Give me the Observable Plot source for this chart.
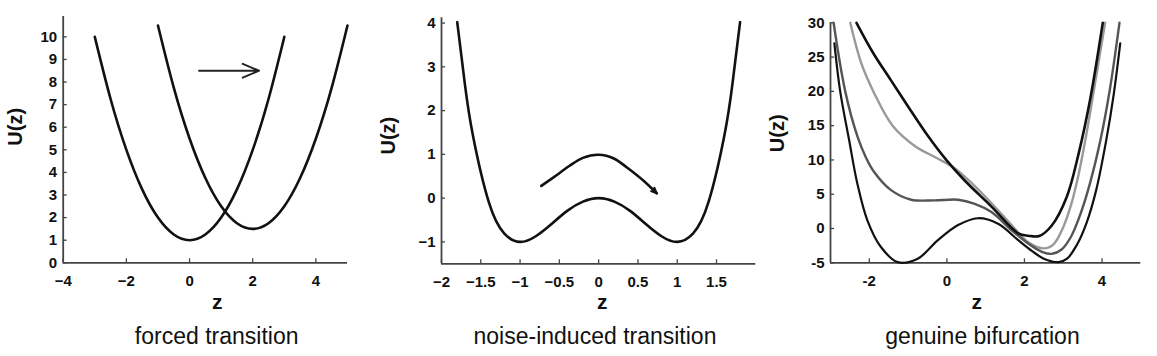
<!DOCTYPE html>
<html>
<head>
<meta charset="utf-8">
<script src="https://cdn.jsdelivr.net/npm/d3@7"></script>
<script src="https://cdn.jsdelivr.net/npm/@observablehq/plot@0.6"></script>
<style>
  body { margin: 0; background: #fff; }
  #wrap { position: relative; width: 1157px; height: 356px; overflow: hidden; background: #fff;
          font-family: "Liberation Sans", Arial, Helvetica, sans-serif; }
  .cap { position: absolute; font-size: 23px; line-height: 26px; color: #111; white-space: nowrap;
         transform: translateX(-50%); }
</style>
</head>
<body>
<div id="wrap"></div>
<script>
// ---------- Panel 1: forced transition ----------
const forcedZ1 = [-3, -2.5, -2, -1.5, -1, -0.5, 0, 0.5, 1, 1.5, 2, 2.5, 3];
const forcedU1 = [10, 7.25, 5, 3.25, 2, 1.25, 1, 1.25, 2, 3.25, 5, 7.25, 10];
const forcedZ2 = [-1, -0.5, 0, 0.5, 1, 1.5, 2, 2.5, 3, 3.5, 4, 4.5, 5];
const forcedU2 = [10.5, 7.75, 5.5, 3.75, 2.5, 1.75, 1.5, 1.75, 2.5, 3.75, 5.5, 7.75, 10.5];
const forcedArrowZ = [0.3, 2.2];
const forcedArrowU = [8.5, 8.5];
const forcedXTicks = [-4, -2, 0, 2, 4];
const forcedYTicks = [0, 1, 2, 3, 4, 5, 6, 7, 8, 9, 10];

// ---------- Panel 2: noise-induced transition ----------
const noiseZ = [-1.8, -1.7, -1.6, -1.4, -1.2, -1, -0.8, -0.6, -0.4, -0.2, 0, 0.2, 0.4, 0.6, 0.8, 1, 1.2, 1.4, 1.6, 1.7, 1.8];
const noiseU = [4.02, 2.57, 1.43, -0.08, -0.81, -1, -0.87, -0.59, -0.29, -0.08, 0, -0.08, -0.29, -0.59, -0.87, -1, -0.81, -0.08, 1.43, 2.57, 4.02];
const hopZ = [-0.73, -0.5, -0.37, -0.2, 0, 0.2, 0.36, 0.57, 0.74];
const hopU = [0.28, 0.57, 0.74, 0.92, 0.99, 0.9, 0.70, 0.40, 0.11];
const noiseXTicks = [-2, -1.5, -1, -0.5, 0, 0.5, 1, 1.5];
const noiseYTicks = [-1, 0, 1, 2, 3, 4];

// ---------- Panel 3: genuine bifurcation ----------
const bifZ_A = [-2.9, -2.75, -2.52, -2.31, -2.05, -1.7, -1.27, -0.75, -0.23, 0.29, 0.8, 1.32, 1.84, 2.2, 2.5, 2.88, 3.1, 3.35, 3.6, 3.85, 4.11, 4.3, 4.47];
const bifU_A = [27, 20, 12.9, 6.6, 1.2, -2.7, -4.9, -4.4, -1.7, 0.5, 1.5, 0.7, -1.7, -3.3, -4.4, -4.9, -4.4, -2.4, 0.8, 5.6, 12.9, 19.5, 27];
const bifZ_B = [-2.92, -2.62, -2.31, -2.09, -1.87, -1.44, -0.92, -0.32, 0.29, 0.72, 1.15, 1.67, 2.2, 2.45, 2.7, 2.95, 3.2, 3.45, 3.7, 3.96, 4.2, 4.45];
const bifU_B = [30, 20, 13.5, 10.4, 8.2, 5.6, 4.2, 4.1, 4.2, 3.6, 2.4, -0.25, -2.6, -3.4, -3.7, -3.1, -1.2, 2.2, 6.8, 12.9, 20.2, 30];
const bifZ_C = [-2.49, -2.2, -1.87, -1.4, -0.79, -0.3, 0.2, 0.7, 1.2, 1.7, 2.1, 2.5, 2.75, 3.0, 3.2, 3.4, 3.57, 3.8, 4.08];
const bifU_C = [30, 24, 19.7, 15, 11.9, 10.4, 8.8, 6.3, 3.4, 0.3, -2.0, -2.9, -2.3, 0.2, 3.4, 8.0, 12.9, 20.5, 30];
const bifZ_D = [-2.33, -1.9, -1.44, -1.0, -0.5, 0, 0.46, 1.15, 1.84, 2.1, 2.38, 2.7, 3.09, 3.4, 3.7, 4.02];
const bifU_D = [30, 25.6, 21.6, 17.8, 13.6, 9.9, 7.0, 3.2, -0.7, -1.05, -1.1, 0.4, 4.6, 11, 19, 30];
const bifXTicks = [-2, 0, 2, 4];
const bifYTicks = [-5, 0, 5, 10, 15, 20, 25, 30];

// ---------- helpers ----------
const zip = (zs, us) => zs.map((z, i) => ({z, u: us[i]}));
const FONT = '"Liberation Sans", Arial, Helvetica, sans-serif';
const AXIS = "#444";
const fmtUnicode = d => (d < 0 ? "\u2212" + Math.abs(d) : String(d));
const fmtHyphen = d => (d < 0 ? "-" + Math.abs(d) : String(d));
const noLabel = () => "";

function panel(cfg) {
  const height = 318;
  const chart = Plot.plot({
    width: cfg.width,
    height,
    marginLeft: cfg.ml,
    marginRight: cfg.mr,
    marginTop: cfg.mt,
    marginBottom: height - cfg.bottom,
    x: {domain: cfg.xDomain},
    y: {domain: cfg.yDomain},
    style: {fontFamily: FONT, background: "transparent", overflow: "visible", color: "#111"},
    marks: [
      // inward tick marks (outward ticks shifted back across the axis line)
      Plot.axisX({ticks: cfg.xTicks, tickFormat: noLabel, tickSize: 4, dy: -4, label: null, stroke: AXIS, strokeWidth: 1.3}),
      Plot.axisY({ticks: cfg.yTicks, tickFormat: noLabel, tickSize: 4, dx: 4, label: null, stroke: AXIS, strokeWidth: 1.3}),
      // tick labels
      Plot.axisX({ticks: cfg.xTicks, tickFormat: cfg.fmt, tickSize: 0, tickPadding: 13, label: null,
                  fontSize: 15, fontWeight: "bold", fill: "#111"}),
      Plot.axisY({ticks: cfg.yTicks, tickFormat: cfg.fmt, tickSize: 0, tickPadding: 6, label: null,
                  fontSize: 15, fontWeight: "bold", fill: "#111"}),
      // axis lines
      Plot.ruleX([cfg.xDomain[0]], {stroke: AXIS, strokeWidth: 1.8}),
      Plot.ruleY([cfg.yDomain[0]], {stroke: AXIS, strokeWidth: 1.8}),
      Plot.text(["U(z)"], {frameAnchor: "left", rotate: -90, dx: cfg.yLabDx, dy: cfg.yLabDy,
                           fontSize: 20, fontWeight: "bold", fill: "#111"}),
      Plot.text(["z"], {frameAnchor: "bottom", dx: cfg.xLabDx, dy: cfg.xLabDy,
                        fontSize: 21, fontWeight: "bold", fill: "#111"}),
      ...cfg.marks
    ]
  });
  chart.style.position = "absolute";
  chart.style.left = cfg.left + "px";
  chart.style.top = "0px";
  document.getElementById("wrap").appendChild(chart);

  const cap = document.createElement("div");
  cap.className = "cap";
  cap.textContent = cfg.caption;
  cap.style.left = cfg.capX + "px";
  cap.style.top = "323px";
  document.getElementById("wrap").appendChild(cap);
}

// Panel 1
panel({
  left: 0, width: 365, ml: 62.7, mr: 18, mt: 16, bottom: 262.3,
  xDomain: [-4, 5], yDomain: [0, 10.9],
  xTicks: forcedXTicks, yTicks: forcedYTicks, fmt: fmtUnicode,
  yLabDx: -47.7, yLabDy: 6, xLabDx: 12, xLabDy: 46,
  caption: "forced transition", capX: 216.7,
  marks: [
    Plot.line(zip(forcedZ1, forcedU1), {x: "z", y: "u", curve: "natural", stroke: "#111", strokeWidth: 2.6}),
    Plot.line(zip(forcedZ2, forcedU2), {x: "z", y: "u", curve: "natural", stroke: "#111", strokeWidth: 2.6}),
    Plot.arrow([{z1: forcedArrowZ[0], u1: forcedArrowU[0], z2: forcedArrowZ[1], u2: forcedArrowU[1]}],
               {x1: "z1", y1: "u1", x2: "z2", y2: "u2", stroke: "#222", strokeWidth: 1.9,
                headLength: 14, headAngle: 46})
  ]
});

// Panel 2
const hop = zip(hopZ, hopU);
const hn = hop.length;
panel({
  left: 365, width: 395, ml: 76, mr: 4.7, mt: 17.3, bottom: 263.3,
  xDomain: [-2, 2], yDomain: [-1.5, 4.12],
  xTicks: noiseXTicks, yTicks: noiseYTicks, fmt: fmtUnicode,
  yLabDx: -52.7, yLabDy: 13.7, xLabDx: 3.5, xLabDy: 45,
  caption: "noise-induced transition", capX: 595,
  marks: [
    Plot.line(zip(noiseZ, noiseU), {x: "z", y: "u", curve: "natural", stroke: "#111", strokeWidth: 2.6}),
    Plot.line(hop, {x: "z", y: "u", curve: "catmull-rom", stroke: "#111", strokeWidth: 2.6}),
    Plot.arrow([{z1: hop[hn - 2].z, u1: hop[hn - 2].u, z2: hop[hn - 1].z, u2: hop[hn - 1].u}],
               {x1: "z1", y1: "u1", x2: "z2", y2: "u2", stroke: "#111", strokeWidth: 2,
                headLength: 14, headAngle: 46})
  ]
});

// Panel 3
panel({
  left: 760, width: 397, ml: 70, mr: 16.7, mt: 22.3, bottom: 262.3,
  xDomain: [-3, 5], yDomain: [-5, 30],
  xTicks: bifXTicks, yTicks: bifYTicks, fmt: fmtHyphen,
  yLabDx: -53.3, yLabDy: 9.4, xLabDx: -9, xLabDy: 46,
  caption: "genuine bifurcation", capX: 982.5,
  marks: [
    Plot.line(zip(bifZ_C, bifU_C), {x: "z", y: "u", curve: "catmull-rom", stroke: "#999", strokeWidth: 2.4}),
    Plot.line(zip(bifZ_B, bifU_B), {x: "z", y: "u", curve: "catmull-rom", stroke: "#555", strokeWidth: 2.4}),
    Plot.line(zip(bifZ_A, bifU_A), {x: "z", y: "u", curve: "catmull-rom", stroke: "#111", strokeWidth: 2.2}),
    Plot.line(zip(bifZ_D, bifU_D), {x: "z", y: "u", curve: "catmull-rom", stroke: "#111", strokeWidth: 2.6})
  ]
});
</script>
</body>
</html>
